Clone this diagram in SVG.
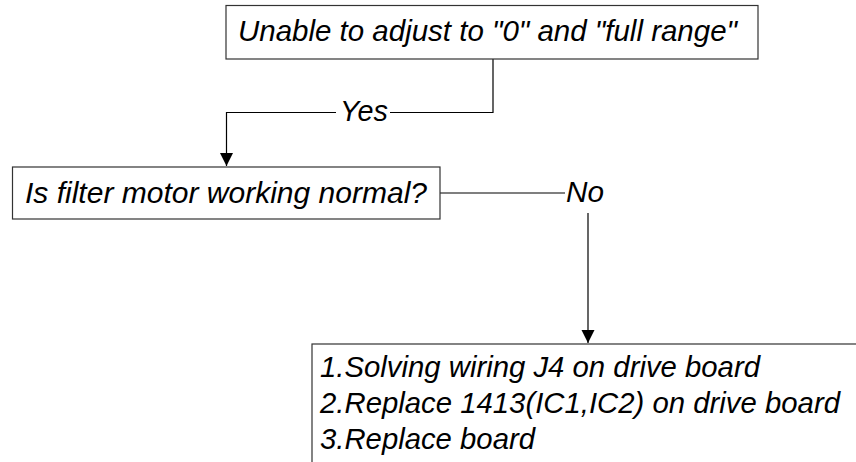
<svg xmlns="http://www.w3.org/2000/svg" width="856" height="462" viewBox="0 0 856 462">
  <style>
    .box { fill: #ffffff; stroke: #333333; stroke-width: 1.2; }
    .t { font-family: "Liberation Sans", Arial, sans-serif; font-style: italic; font-size: 29px; fill: #000000; }
    .c { fill: none; stroke: #000000; stroke-width: 1.2; }
  </style>
  <defs>
    <marker id="arr" markerUnits="userSpaceOnUse" markerWidth="14" markerHeight="14" viewBox="0 0 14 14" refX="13" refY="7" orient="auto">
      <path d="M0,0.5 L13,7 L0,13.5 Z" fill="#000000"/>
    </marker>
  </defs>
  <rect width="856" height="462" fill="#ffffff"/>
  <g id="connectors">
    <path class="c" d="M493,59 V112.5 H390"/>
    <path class="c" d="M336,112.5 H226.5 V166" marker-end="url(#arr)"/>
    <text class="t" x="340" y="121" textLength="48" lengthAdjust="spacingAndGlyphs">Yes</text>
    <path class="c" d="M440,193 H565"/>
    <text class="t" x="566" y="202" textLength="38" lengthAdjust="spacingAndGlyphs">No</text>
    <path class="c" d="M588,213 V343" marker-end="url(#arr)"/>
  </g>
  <g id="node-start">
    <rect class="box" x="226" y="5.5" width="532" height="53.5"/>
    <text class="t" x="238" y="41" textLength="499" lengthAdjust="spacingAndGlyphs">Unable to adjust to "0" and "full range"</text>
  </g>
  <g id="node-question">
    <rect class="box" x="12.5" y="167" width="427.5" height="52"/>
    <text class="t" x="25" y="203" textLength="402" lengthAdjust="spacingAndGlyphs">Is filter motor working normal?</text>
  </g>
  <g id="node-actions">
    <rect class="box" x="312" y="344" width="600" height="160"/>
    <text class="t" x="320" y="377" textLength="440" lengthAdjust="spacingAndGlyphs">1.Solving wiring J4 on drive board</text>
    <text class="t" x="320" y="413" textLength="520" lengthAdjust="spacingAndGlyphs">2.Replace 1413(IC1,IC2) on drive board</text>
    <text class="t" x="320" y="449" textLength="215" lengthAdjust="spacingAndGlyphs">3.Replace board</text>
  </g>
</svg>
